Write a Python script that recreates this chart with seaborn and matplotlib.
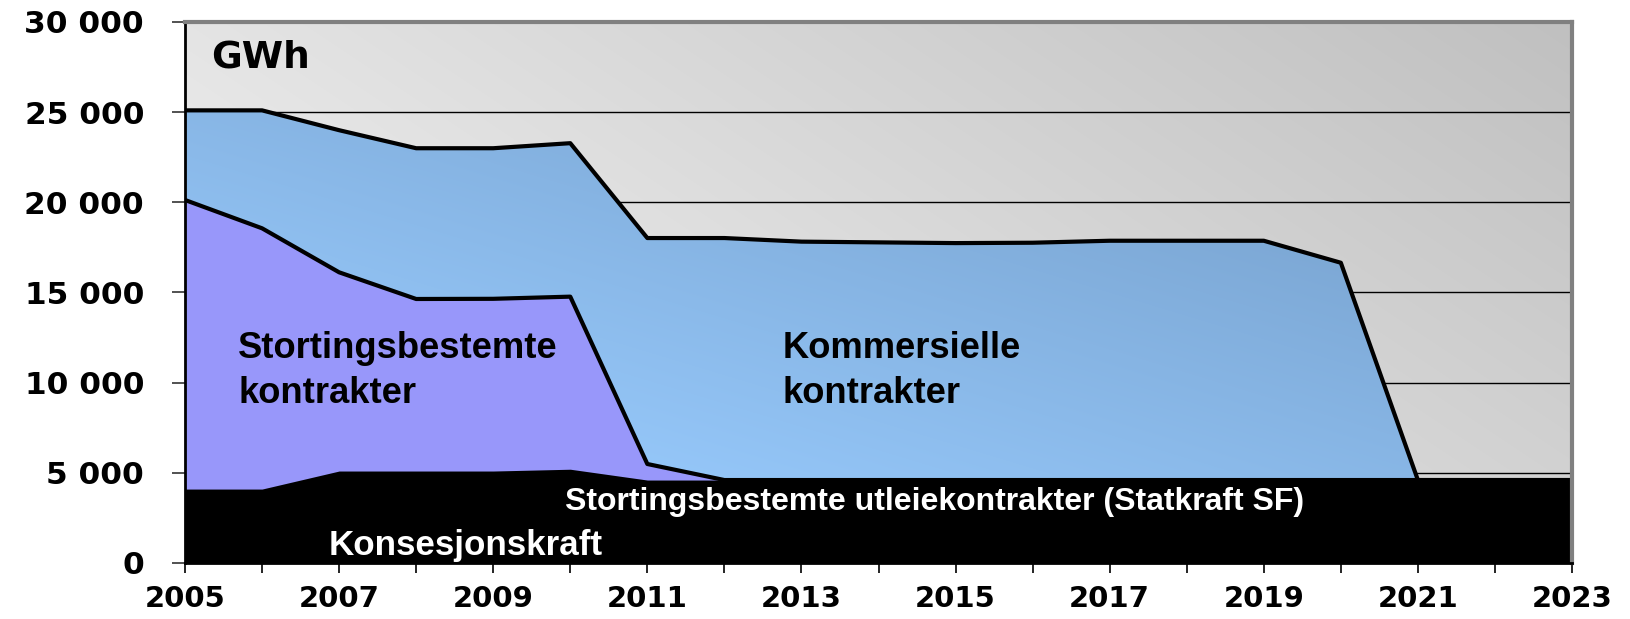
import numpy as np
import pandas as pd
import matplotlib
matplotlib.use('Agg')
import matplotlib.pyplot as plt
import seaborn as sns

sns.set_style('white')
plt.rcParams['font.family'] = ['DejaVu Sans']
plt.rcParams['font.weight'] = 'bold'
plt.rcParams['text.color'] = 'black'
plt.rcParams['xtick.color'] = 'black'
plt.rcParams['ytick.color'] = 'black'

years = list(range(2005, 2024))

# top of each band (GWh)
konsesjonskraft_topp = [2600, 2600, 2600, 2600, 2600, 2600, 2600, 2600, 2600, 2600,
                        2600, 2600, 2600, 2600, 2600, 2600, 2600, 2600, 2600]
utleie_topp = [4100, 4100, 5100, 5100, 5100, 5200, 4600, 4600, 4600, 4600,
               4600, 4600, 4600, 4600, 4600, 4600, 4600, 4600, 4600]
stortinget_topp = [20130, 18560, 16120, 14640, 14650, 14770, 5490, 4600, 4600, 4600,
                   4600, 4600, 4600, 4600, 4600, 4600, 4600, 4600, 4600]
kommersielle_topp = [25100, 25100, 24000, 23000, 23000, 23280, 18020, 18020, 17820, 17780,
                     17740, 17760, 17870, 17870, 17870, 16650, 4600, 4600, 4600]

y_ticks = [0, 5000, 10000, 15000, 20000, 25000, 30000]
x_labels = [2005, 2007, 2009, 2011, 2013, 2015, 2017, 2019, 2021, 2023]

df = pd.DataFrame({
    'År': years,
    'Konsesjonskraft': konsesjonskraft_topp,
    'Utleie': utleie_topp,
    'Stortinget': stortinget_topp,
    'Kommersielle': kommersielle_topp,
})

fig = plt.figure(figsize=(16.31, 6.19), dpi=100)
ax = fig.add_axes([185 / 1631, 1 - 563 / 619, (1572 - 185) / 1631, (563 - 22) / 619])
ext = [2005, 2023, 0, 30000]

# grey gradient background
X, Y = np.meshgrid(np.linspace(0, 1, 300), np.linspace(0, 1, 150))
v = (249 - 36 * X - 21 * Y) / 255
ax.imshow(np.dstack([v, v, v]), extent=ext, origin='lower', aspect='auto',
          interpolation='bilinear', zorder=0)

# blue gradient clipped to the commercial band
blue_poly = ax.fill_between(df['År'], 0, df['Kommersielle'], color='none', lw=0, zorder=2)
t = np.clip(0.7 * X + 0.9 * Y - 0.25, 0, 1)[..., None]
light = np.array([153, 204, 255]) / 255
dark = np.array([120, 162, 206]) / 255
blue_img = ax.imshow(light + t * (dark - light), extent=ext, origin='lower', aspect='auto',
                     interpolation='bilinear', zorder=2)
blue_img.set_clip_path(blue_poly.get_paths()[0], transform=ax.transData)

ax.fill_between(df['År'], 0, df['Stortinget'], color='#9897FA', lw=0, zorder=3)
ax.fill_between(df['År'], 0, df['Utleie'], color='black', lw=0, zorder=4)
ax.fill_between(df['År'], 0, df['Konsesjonskraft'], color='black', lw=0, zorder=4)

sns.lineplot(data=df, x='År', y='Kommersielle', color='black', lw=3, ax=ax, zorder=5)
sns.lineplot(data=df, x='År', y='Stortinget', color='black', lw=3, ax=ax, zorder=5)

ax.set_xlim(2005, 2023)
ax.set_ylim(0, 30000)
ax.set_xlabel('')
ax.set_ylabel('')

ax.set_xticks(x_labels)
ax.set_xticks([y for y in years if y not in x_labels], minor=True)
ax.set_yticks(y_ticks)
ax.set_yticklabels([f'{v:,}'.replace(',', ' ') for v in y_ticks])
ax.tick_params(axis='x', which='both', direction='out', length=7, width=1.2,
               color='black', pad=8.5, labelsize=21, bottom=True)
ax.tick_params(axis='y', direction='out', length=9.5, width=1.2, color='#333333',
               pad=20, labelsize=22.5, left=True)

ax.set_axisbelow(True)
ax.yaxis.grid(True, color='black', lw=1)
ax.xaxis.grid(False)

for side in ['left', 'bottom']:
    ax.spines[side].set_color('black')
    ax.spines[side].set_linewidth(2)
for side in ['top', 'right']:
    ax.spines[side].set_color('#808080')
    ax.spines[side].set_linewidth(3)
for s in ax.spines.values():
    s.set_zorder(6)

ax.text(2005.34, 27450, 'GWh', fontsize=27, fontweight='bold', va='baseline', zorder=7)
ax.text(2005.69, 8870, 'Stortingsbestemte\nkontrakter', fontsize=26.2, fontweight='bold',
        family='Liberation Sans', va='baseline', linespacing=1.38, zorder=7)
ax.text(2012.76, 8870, 'Kommersielle\nkontrakter', fontsize=26.2, fontweight='bold',
        family='Liberation Sans', va='baseline', linespacing=1.38, zorder=7)
ax.text(2009.93, 2939, 'Stortingsbestemte utleiekontrakter (Statkraft SF)', color='white',
        fontsize=23, fontweight='bold', family='Liberation Sans', va='baseline', zorder=7)
ax.text(2006.87, 444, 'Konsesjonskraft', color='white', fontsize=25.2, fontweight='bold',
        family='Liberation Sans', va='baseline', zorder=7)

fig.savefig('out.png', dpi=100)
